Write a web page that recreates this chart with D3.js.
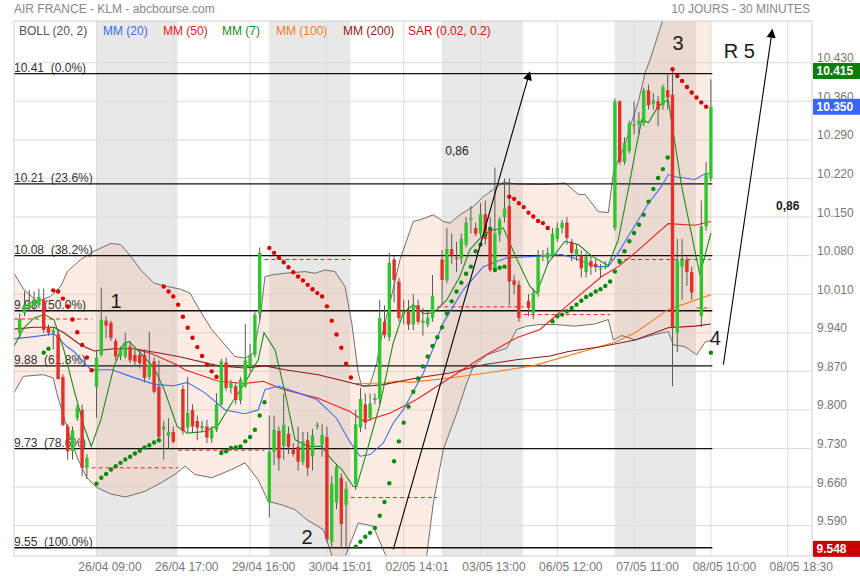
<!DOCTYPE html>
<html>
<head>
<meta charset="utf-8">
<script src="https://cdn.jsdelivr.net/npm/d3@7/dist/d3.min.js"></script>
<style>
  body { margin: 0; background: #fff; }
  svg { display: block; font-family: "Liberation Sans", Arial, sans-serif; }
</style>
</head>
<body>
<svg id="chart" width="860" height="580"></svg>
<script>
// ---- 30-minute bars, one slot per half hour (09:00 .. 17:30, 18 slots a day) ----
// day order: 25/04, 26/04, 29/04, 30/04, 02/05, 03/05, 06/05, 07/05, 08/05
const opens = [
  null, null, 9.940, 9.976, 9.985, 9.990, 9.990, 10.000, 9.950, 9.940, 9.937, 9.860, 9.770, 9.725, 9.785, 9.800, 9.695, null,
  9.842, 9.900, 9.962, 9.958, 9.925, 9.897, 9.897, 9.915, 9.900, 9.900, 9.900, 9.860, 9.888, 9.842, 9.765, 9.753, 9.760, null,
  9.838, 9.768, 9.800, 9.780, 9.767, 9.770, 9.748, 9.764, 9.810, 9.886, 9.840, 9.843, 9.817, 9.843, 9.878, 9.900, 9.975, null,
  9.632, 9.724, 9.762, 9.735, 9.757, 9.728, 9.733, 9.706, 9.745, 9.716, 9.770, 9.737, 9.751, 9.561, 9.632, 9.677, 9.628, null,
  9.665, 9.768, 9.810, 9.785, 9.818, 9.820, 9.960, 9.932, 10.073, 10.033, 9.973, 9.978, 9.955, 9.990, 9.958, 9.955, 9.967, null,
  10.073, 10.036, 10.092, 10.076, 10.075, 10.100, 10.145, 10.130, 10.120, 10.155, 10.130, 10.054, 10.118, 10.150, 10.170, 10.035, 10.027, null,
  9.998, 9.976, 10.013, 10.078, 10.075, 10.080, 10.110, 10.130, 10.140, 10.105, 10.080, 10.080, 10.050, 10.070, 10.065, 10.055, 10.060, null,
  10.130, 10.360, 10.250, 10.270, 10.315, 10.318, 10.320, 10.380, 10.355, 10.360, 10.353, 10.380, 10.372, 9.940, 10.060, 10.072, 10.050, null,
  9.970, 10.133, 10.220
];
const highs = [
  null, null, 9.975, 10.015, 10.018, 10.015, 10.020, 10.020, 9.955, 9.950, 9.945, 9.865, 9.775, 9.770, 9.810, 9.810, 9.720, null,
  9.909, 10.022, 9.970, 9.962, 9.930, 9.915, 9.940, 9.925, 9.910, 9.910, 9.910, 9.942, 9.895, 9.890, 9.780, 9.785, 9.770, null,
  9.845, 9.860, 9.810, 9.790, 9.780, 9.782, 9.770, 9.830, 9.893, 9.895, 9.855, 9.850, 9.860, 9.956, 9.920, 9.980, 10.095, null,
  9.790, 9.790, 9.770, 9.830, 9.770, 9.740, 9.770, 9.760, 9.760, 9.765, 9.778, 9.775, 9.770, 9.680, 9.700, 9.685, 9.670, null,
  9.800, 9.840, 9.830, 9.830, 9.830, 10.000, 9.990, 10.085, 10.080, 10.040, 10.000, 10.000, 10.010, 10.000, 9.985, 9.980, 10.045, null,
  10.090, 10.130, 10.120, 10.105, 10.120, 10.150, 10.170, 10.140, 10.175, 10.180, 10.150, 10.240, 10.150, 10.220, 10.220, 10.045, 10.035, null,
  10.010, 10.020, 10.090, 10.090, 10.095, 10.130, 10.140, 10.145, 10.150, 10.110, 10.100, 10.090, 10.085, 10.080, 10.075, 10.065, 10.070, null,
  10.365, 10.362, 10.295, 10.325, 10.360, 10.340, 10.385, 10.390, 10.375, 10.370, 10.390, 10.410, 10.415, 10.110, 10.110, 10.078, 10.060, null,
  10.180, 10.250, 10.400
];
const lows = [
  null, null, 9.930, 9.970, 9.980, 9.980, 9.985, 9.940, 9.935, 9.910, 9.855, 9.770, 9.710, 9.710, 9.780, 9.680, 9.675, null,
  9.786, 9.897, 9.930, 9.925, 9.890, 9.890, 9.893, 9.885, 9.880, 9.875, 9.850, 9.855, 9.830, 9.745, 9.710, 9.730, 9.740, null,
  9.755, 9.760, 9.760, 9.745, 9.760, 9.740, 9.740, 9.760, 9.808, 9.835, 9.830, 9.810, 9.810, 9.840, 9.870, 9.895, 9.964, null,
  9.605, 9.700, 9.690, 9.710, 9.720, 9.715, 9.690, 9.700, 9.680, 9.690, 9.765, 9.715, 9.560, 9.550, 9.620, 9.548, 9.552, null,
  9.655, 9.760, 9.765, 9.780, 9.810, 9.810, 9.930, 9.925, 9.995, 9.960, 9.955, 9.945, 9.945, 9.955, 9.935, 9.950, 9.960, null,
  9.990, 10.030, 10.065, 10.050, 10.065, 10.095, 10.120, 10.115, 10.115, 10.100, 10.050, 10.050, 10.105, 10.140, 9.990, 10.010, 9.960, null,
  9.970, 9.965, 10.005, 10.070, 10.065, 10.075, 10.105, 10.120, 10.100, 10.070, 10.070, 10.040, 10.040, 10.045, 10.050, 10.040, 10.055, null,
  10.125, 10.245, 10.245, 10.265, 10.300, 10.300, 10.315, 10.345, 10.345, 10.315, 10.345, 10.345, 9.843, 9.905, 10.000, 10.025, 10.000, null,
  9.950, 10.125, 10.215
];
const closes = [
  null, null, 9.965, 9.991, 9.995, 10.000, 10.005, 9.945, 9.940, 9.945, 9.856, 9.773, 9.725, 9.763, 9.805, 9.695, 9.713, null,
  9.895, 9.964, 9.953, 9.931, 9.897, 9.910, 9.922, 9.890, 9.888, 9.885, 9.858, 9.882, 9.833, 9.751, 9.770, 9.760, 9.742, null,
  9.762, 9.795, 9.770, 9.768, 9.771, 9.750, 9.764, 9.810, 9.888, 9.840, 9.850, 9.818, 9.855, 9.890, 9.900, 9.973, 10.085, null,
  9.724, 9.764, 9.712, 9.773, 9.733, 9.720, 9.706, 9.743, 9.695, 9.754, 9.773, 9.755, 9.565, 9.666, 9.697, 9.593, 9.657, null,
  9.774, 9.820, 9.777, 9.812, 9.822, 9.967, 9.936, 10.067, 10.036, 9.967, 9.978, 9.955, 9.990, 9.960, 9.962, 9.967, 10.007, null,
  10.036, 10.092, 10.080, 10.074, 10.110, 10.140, 10.148, 10.120, 10.155, 10.110, 10.054, 10.120, 10.145, 10.165, 10.033, 10.027, 9.967, null,
  9.985, 10.013, 10.078, 10.082, 10.085, 10.120, 10.130, 10.140, 10.112, 10.085, 10.092, 10.057, 10.078, 10.060, 10.060, 10.057, 10.062, null,
  10.360, 10.250, 10.285, 10.320, 10.318, 10.325, 10.380, 10.353, 10.362, 10.345, 10.386, 10.367, 9.950, 10.072, 10.072, 10.050, 10.013, null,
  10.133, 10.230, 10.350
];

// Parabolic SAR (0.02, 0.2), one value per slot; trend reverses at the listed slots
const sar = [
  null, null, null, null, null, null, null, 9.904, 9.911, 10.017, 10.015, 10.002, 9.988, 9.964, 9.941, 9.918, 9.895, 9.872,
  9.666, 9.677, 9.684, 9.692, 9.698, 9.704, 9.710, 9.715, 9.721, 9.726, 9.732, 9.736, 9.741, 9.745, 10.024, 10.015, 10.006, 9.991,
  9.969, 9.949, 9.931, 9.914, 9.898, 9.882, 9.870, 9.860, 9.722, 9.725, 9.731, 9.732, 9.734, 9.743, 9.751, 9.764, 9.790, 9.814,
  10.094, 10.085, 10.076, 10.068, 10.059, 10.050, 10.042, 10.035, 10.027, 10.019, 10.012, 10.006, 9.988, 9.962, 9.937, 9.913, 9.884, 9.859,
  9.552, 9.561, 9.570, 9.577, 9.586, 9.608, 9.633, 9.667, 9.707, 9.743, 9.777, 9.806, 9.833, 9.857, 9.879, 9.897, 9.916, 9.932,
  9.950, 9.975, 9.997, 10.015, 10.031, 10.047, 10.060, 10.088, 10.100, 10.118, 10.129, 10.054, 10.058, 10.060, 10.187, 10.183, 10.175, 10.168,
  10.158, 10.151, 10.143, 10.139, 10.130, 9.961, 9.970, 9.973, 9.979, 9.985, 9.991, 9.998, 10.005, 10.009, 10.015, 10.019, 10.025, 10.033,
  10.051, 10.069, 10.088, 10.106, 10.121, 10.136, 10.154, 10.178, 10.201, 10.221, 10.237, 10.258, 10.418, 10.406, 10.397, 10.386, 10.376, 10.367,
  10.358, 10.350, 9.904
];
const sarFlips = [9, 18, 32, 44, 54, 72, 104, 113, 138, 146];

// Moving averages as [slot, value]
const mm7 = [[0.8,9.915],[2.9,9.949],[5,9.967],[7.1,9.973],[9.15,9.964],[11.2,9.909],[13.3,9.837],[15.4,9.770],[16.9,9.734],
  [18.9,9.782],[21.65,9.879],[23.7,9.921],[24.8,9.924],[27.2,9.903],[30,9.876],[32.1,9.837],[34.8,9.770],[36.9,9.758],[40.6,9.761],
  [43.4,9.773],[46.2,9.813],[48.9,9.849],[51.7,9.891],[52.9,9.940],[55.2,9.909],[57.3,9.831],[59.35,9.746],[62.1,9.734],[64.9,9.734],
  [67,9.710],[69.1,9.692],[71.5,9.661],[72.2,9.661],[73.9,9.712],[77.06,9.810],[79.8,9.921],[81.9,9.976],[84,9.991],[86.1,9.975],
  [88.2,9.976],[91,10.000],[93.7,10.042],[95.8,10.091],[98.6,10.118],[100.7,10.127],[102.75,10.130],[105.5,10.075],[108.3,10.024],
  [109.7,10.012],[112.1,10.067],[115.6,10.106],[118.4,10.100],[121.2,10.079],[124.6,10.062],[126.7,10.109],[128.8,10.200],
  [130.2,10.266],[131.6,10.327],[133,10.321],[135,10.351],[137.1,10.363],[139.9,10.206],[143.7,10.045],[146,10.121]];
const mm20 = [[0.8,9.929],[5,9.933],[9.15,9.938],[11.8,9.915],[13.3,9.906],[16.8,9.873],[21.2,9.873],[25.4,9.860],[30.2,9.846],
  [34.15,9.844],[36.9,9.850],[40.6,9.831],[44.8,9.800],[48.9,9.793],[51.7,9.800],[53.1,9.837],[55.9,9.843],[60,9.831],[63.9,9.819],
  [68,9.785],[70.8,9.742],[72.9,9.716],[75,9.719],[77.75,9.740],[79.8,9.776],[81.9,9.800],[86.1,9.867],[90.25,9.958],[94.4,10.018],
  [98.6,10.060],[103.5,10.076],[110.4,10.079],[114.9,10.082],[118.4,10.073],[121.9,10.060],[124.6,10.060],[126.7,10.085],
  [128.8,10.115],[133,10.175],[135.75,10.206],[137.1,10.227],[138.5,10.223],[142.7,10.218],[144.8,10.229],[146,10.229]];
const mm50 = [[27,9.908],[29.3,9.903],[34.7,9.882],[36.4,9.873],[43.4,9.852],
  [48.9,9.848],[52.75,9.852],[56.9,9.837],[63.9,9.822],[70.8,9.797],[73.9,9.779],[75.7,9.785],[79.1,9.794],[84.7,9.819],[91.6,9.858],
  [98.6,9.897],[105.5,9.931],[110.4,9.946],[116.3,9.991],[123.25,10.042],[126.7,10.060],[130.2,10.085],[137.1,10.138],[142.7,10.135],
  [146,10.142]];
const mm100 = [[72,9.848],[78,9.849],[80.5,9.852],[83.3,9.850],[91.6,9.858],[100,9.868],[108.9,9.880],[126,9.923],[130.2,9.940],
  [137.1,9.982],[142,9.997],[146,10.009]];
const mm200 = [[0,9.946],[5,9.950],[9.15,9.950],[11.2,9.940],[14.7,9.918],[17.5,9.907],[21.6,9.911],[25.8,9.911],[28.5,9.907],
  [31.4,9.903],[35.5,9.896],[37.5,9.892],[43.4,9.880],[48.9,9.876],[53.1,9.880],[57.3,9.873],[64.2,9.864],[71.2,9.849],[73.9,9.843],
  [77.8,9.846],[84.7,9.858],[91.6,9.867],[98.6,9.882],[105.5,9.891],[112.5,9.898],[116.3,9.906],[123.3,9.915],[130.2,9.927],
  [137.1,9.949],[142.7,9.952],[146,9.956]];

// Bollinger (20, 2) envelope as [slot, value]
const bollUpper = [[0.8,10.048],[2.9,10.018],[5.67,9.997],[8.46,10.006],[10.54,10.024],[11.92,10.051],[14.71,10.073],[17.48,10.088],
  [20.96,10.102],[23.04,10.100],[25.13,10.079],[27.21,10.054],[29.98,10.030],[32.75,10.024],[35.54,10.019],[37.48,10.012],[39.21,9.985],
  [42,9.946],[44.77,9.918],[46.85,9.897],[48.94,9.894],[50.67,9.903],[52.06,9.964],[53.1,10.042],[54.5,10.045],[57.27,10.048],
  [61.44,10.051],[63.52,10.048],[65.6,10.054],[67.69,10.051],[69.77,10.024],[71.17,9.958],[72.54,9.867],[73.25,9.843],[74.98,9.846],
  [76.38,9.885],[77.06,9.921],[79.15,9.995],[81.23,10.073],[84,10.142],[85.4,10.145],[88.17,10.154],[90.25,10.142],[91.65,10.139],
  [93.73,10.154],[96.5,10.169],[98.58,10.187],[100.67,10.200],[102.75,10.213],[105.54,10.210],[110.4,10.209],[113.52,10.210],
  [115.6,10.212],[118.38,10.191],[119.77,10.191],[122.54,10.160],[124.63,10.158],[125.67,10.230],[126.71,10.254],[128.1,10.281],
  [129.5,10.323],[130.88,10.359],[132.27,10.411],[133.31,10.435],[136,10.508],[138.7,10.580],[141.6,10.617],[146,10.635]];
const bollLower = [[0.8,9.831],[2.75,9.861],[6.92,9.864],[9,9.858],[9.71,9.831],[11.79,9.770],[13.88,9.716],[15.96,9.677],
  [18,9.660],[20.8,9.648],[24,9.642],[28,9.652],[31.5,9.668],[34.5,9.684],[36.44,9.698],[38.52,9.683],[42,9.677],[46.17,9.692],
  [48.94,9.704],[51.71,9.673],[53.79,9.634],[56.58,9.628],[59.35,9.619],[61.79,9.601],[65.25,9.583],[66.65,9.546],[67.7,9.519],
  [68.7,9.510],[71.2,9.565],[72.54,9.595],[75.67,9.589],[77.75,9.546],[80.2,9.500],[85.4,9.500],[86.8,9.536],[88.17,9.631],
  [90.25,9.728],[93.04,9.794],[95.13,9.849],[96.5,9.879],[99.29,9.900],[103.46,9.912],[105.54,9.946],[107.63,9.952],[110.4,9.955],
  [113.52,9.955],[117.69,9.952],[121.85,9.956],[124.63,9.964],[125.67,9.927],[127.42,9.935],[130.19,9.927],[134.35,9.937],
  [137.13,9.942],[138.17,9.918],[140.6,9.915],[143.04,9.900],[144.77,9.923],[145.96,9.926]];

// Previous-session close, dashed across each session
const prevCloseFrom  = [0.8, 17, 35, 53, 71, 89, 107, 125, 143];
const prevCloseTo    = [17, 35, 53, 71, 89, 107, 125, 146, 146];
const prevCloseValue = [9.965, 9.695, 9.727, 10.073, 9.641, 9.987, 9.973, 10.073, 9.985];

// Fibonacci retracement of the 9.55 -> 10.41 swing
const fibLevels = [10.41, 10.21, 10.08, 9.98, 9.88, 9.73, 9.55];
const fibPcts   = ["0.0%", "23.6%", "38.2%", "50.0%", "61.8%", "78.6%", "100.0%"];

// Axes
const yTicks = [10.43, 10.36, 10.29, 10.22, 10.15, 10.08, 10.01, 9.94, 9.87, 9.80, 9.73, 9.66, 9.59];
const xTickSlots = [18, 34, 50, 66, 82, 98, 114, 130, 146, 162];
const xTickLabels = ["26/04 09:00", "26/04 17:00", "29/04 16:00", "30/04 15:01", "02/05 14:01",
                     "03/05 13:00", "06/05 12:00", "07/05 11:00", "08/05 10:00", "08/05 18:30"];
const shadedSessions = [18, 54, 90, 126];

// Drawn annotations: [slot, value]
const trendA = [[79.83, 9.547], [108.25, 10.413]];
const trendB = [[148.6, 9.882], [158.8, 10.49]];
const notes = [
  { text: "1",    at: [22.1, 9.985],  size: 20, anchor: "middle" },
  { text: "2",    at: [61.85, 9.556], size: 20, anchor: "middle" },
  { text: "3",    at: [139.15, 10.453], size: 20, anchor: "middle" },
  { text: "4",    at: [146.9, 9.918], size: 20, anchor: "middle" },
  { text: "R 5",  at: [148.7, 10.439], size: 20, anchor: "start" },
  { text: "0,86", at: [93.1, 10.263], size: 12, anchor: "middle" },
  { text: "0,86", at: [162, 10.163],  size: 12, anchor: "middle", bold: true }
];

const legend = [
  { text: "BOLL (20, 2)",    color: "#555555", x: 19 },
  { text: "MM (20)",         color: "#3f6cf2", x: 103 },
  { text: "MM (50)",         color: "#ee2020", x: 163 },
  { text: "MM (7)",          color: "#1d8a1d", x: 222 },
  { text: "MM (100)",        color: "#ff7a1a", x: 276 },
  { text: "MM (200)",        color: "#8e1b1b", x: 343 },
  { text: "SAR (0.02, 0.2)", color: "#d01010", x: 408 }
];

// ---------------------------------------------------------------------------
const svg = d3.select("#chart");
const plot = { left: 14, right: 812, top: 21, bottom: 556 };

const x = d3.scaleLinear().domain([0, 162]).range([10.1, 787.7]);
const y = d3.scaleLinear().domain([9.59, 10.43]).range([525.7, 62.7]);

svg.append("rect").attr("width", 860).attr("height", 580).attr("fill", "#fff");

svg.append("defs").append("clipPath").attr("id", "plotClip")
  .append("rect").attr("x", plot.left).attr("y", plot.top)
  .attr("width", plot.right - plot.left).attr("height", plot.bottom - plot.top);

svg.select("defs").append("marker")
  .attr("id", "arrow").attr("viewBox", "0 0 10 10").attr("refX", 9).attr("refY", 5)
  .attr("markerWidth", 11).attr("markerHeight", 9).attr("markerUnits", "userSpaceOnUse")
  .attr("orient", "auto")
  .append("path").attr("d", "M0,0 L10,5 L0,10 z").attr("fill", "#000");

const g = svg.append("g").attr("clip-path", "url(#plotClip)");

// alternate sessions shaded
g.selectAll("rect.session").data(shadedSessions).join("rect")
  .attr("x", d => x(d) - 0.3).attr("y", plot.top)
  .attr("width", d => x(d + 17) - x(d) - 0.2).attr("height", plot.bottom - plot.top)
  .attr("fill", "#e8e8e8");

// grid
g.selectAll("line.hgrid").data(yTicks).join("line")
  .attr("x1", plot.left).attr("x2", plot.right)
  .attr("y1", d => y(d)).attr("y2", d => y(d))
  .attr("stroke", "#dcdcdc").attr("stroke-width", 1);
g.selectAll("line.vgrid").data(xTickSlots).join("line")
  .attr("x1", d => x(d)).attr("x2", d => x(d))
  .attr("y1", plot.top).attr("y2", plot.bottom)
  .attr("stroke", "#dcdcdc").attr("stroke-width", 1);

// Bollinger envelope
const lineGen = d3.line().x(d => x(d[0])).y(d => y(d[1]));
const env = bollUpper.concat(bollLower.slice().reverse());
g.append("path")
  .attr("d", lineGen(env) + "Z")
  .attr("fill", "rgba(248,170,128,0.22)");
[bollUpper, bollLower].forEach(b => {
  g.append("path").attr("d", lineGen(b)).attr("fill", "none")
    .attr("stroke", "#6e6e6e").attr("stroke-width", 1);
});

// Fibonacci levels
const fibEnd = x(146.3);
g.selectAll("line.fib").data(fibLevels).join("line")
  .attr("x1", plot.left).attr("x2", fibEnd)
  .attr("y1", d => y(d)).attr("y2", d => y(d))
  .attr("stroke", "#111").attr("stroke-width", 1.3);
g.selectAll("text.fib").data(fibLevels).join("text")
  .attr("x", plot.left).attr("y", d => y(d) - 1.5)
  .attr("font-size", 12).attr("fill", "#333")
  .style("white-space", "pre")
  .text((d, i) => d.toFixed(2) + "  (" + fibPcts[i] + ")");

// previous-close dashes
g.selectAll("line.prev").data(prevCloseValue).join("line")
  .attr("x1", (d, i) => x(prevCloseFrom[i])).attr("x2", (d, i) => x(prevCloseTo[i]))
  .attr("y1", d => y(d)).attr("y2", d => y(d))
  .attr("stroke", "#e8241c").attr("stroke-width", 1).attr("stroke-dasharray", "4,3");

// moving averages
const maStyles = [
  { data: mm100, color: "#ff7a1a" },
  { data: mm50,  color: "#ee2020" },
  { data: mm200, color: "#8e1b1b" },
  { data: mm20,  color: "#3f6cf2" },
  { data: mm7,   color: "#1d8a1d" }
];
maStyles.forEach(m => {
  g.append("path").attr("d", lineGen(m.data)).attr("fill", "none")
    .attr("stroke", m.color).attr("stroke-width", 1.1);
});

// candles
const bars = d3.range(opens.length).filter(i => opens[i] != null)
  .map(i => ({ i, o: opens[i], h: highs[i], l: lows[i], c: closes[i] }));
const cg = g.append("g");
cg.selectAll("line.wick").data(bars).join("line")
  .attr("x1", d => x(d.i)).attr("x2", d => x(d.i))
  .attr("y1", d => y(d.h)).attr("y2", d => y(d.l))
  .attr("stroke", "#5a5a5a").attr("stroke-width", 1);
cg.selectAll("rect.body").data(bars).join("rect")
  .attr("x", d => x(d.i) - 1.7).attr("width", 3.4)
  .attr("y", d => y(Math.max(d.o, d.c)))
  .attr("height", d => Math.max(1.2, Math.abs(y(d.o) - y(d.c))))
  .attr("fill", d => d.c >= d.o ? "#2ec52e" : "#e2302a");

// SAR dots
let rising = true;
const sarDots = [];
sar.forEach((v, i) => {
  if (sarFlips.includes(i)) rising = !rising;
  if (v != null) sarDots.push({ i, v, rising });
});
g.selectAll("circle.sar").data(sarDots).join("circle")
  .attr("cx", d => x(d.i)).attr("cy", d => y(d.v)).attr("r", 2.2)
  .attr("fill", d => d.rising ? "#0a8a0a" : "#d80000");

// trend arrows
[trendA, trendB].forEach(t => {
  svg.append("line")
    .attr("x1", x(t[0][0])).attr("y1", y(t[0][1]))
    .attr("x2", x(t[1][0])).attr("y2", y(t[1][1]))
    .attr("stroke", "#000").attr("stroke-width", 1.1)
    .attr("marker-end", "url(#arrow)");
});

// annotation text
svg.selectAll("text.note").data(notes).join("text")
  .attr("x", d => x(d.at[0])).attr("y", d => y(d.at[1]))
  .attr("text-anchor", d => d.anchor)
  .attr("font-size", d => d.size)
  .attr("font-weight", d => d.bold ? "bold" : "normal")
  .attr("fill", "#1a1a1a")
  .text(d => d.text);

// frame
svg.append("rect").attr("x", plot.left).attr("y", plot.top)
  .attr("width", plot.right - plot.left).attr("height", plot.bottom - plot.top)
  .attr("fill", "none").attr("stroke", "#d0d0d0").attr("stroke-width", 1);

// right axis
svg.selectAll("text.ytick").data(yTicks).join("text")
  .attr("x", 817).attr("y", d => y(d) - 0.5)
  .attr("font-size", 12).attr("fill", "#777")
  .text(d => d.toFixed(3));

// price tags: session high, last close, session low
const tags = [
  { v: d3.max(highs), color: "#0c7c0c" },
  { v: closes[closes.length - 1], color: "#3a66ff" },
  { v: d3.min(lows), color: "#c80000" }
];
const tg = svg.selectAll("g.tag").data(tags).join("g");
tg.append("rect").attr("x", 813).attr("y", d => y(d.v) - 8).attr("width", 47).attr("height", 16)
  .attr("fill", d => d.color);
tg.append("text").attr("x", 816.5).attr("y", d => y(d.v) + 4.3)
  .attr("font-size", 12).attr("font-weight", "bold").attr("fill", "#fff")
  .text(d => d.v.toFixed(3));

// bottom axis
svg.selectAll("text.xtick").data(xTickSlots).join("text")
  .attr("x", d => x(d) + 13.5).attr("y", 571)
  .attr("text-anchor", "middle").attr("font-size", 12).attr("fill", "#777")
  .text((d, i) => xTickLabels[i]);

// header
svg.append("text").attr("x", 14).attr("y", 13).attr("font-size", 12).attr("fill", "#888")
  .text("AIR FRANCE - KLM - abcbourse.com");
svg.append("text").attr("x", 810).attr("y", 13).attr("text-anchor", "end")
  .attr("font-size", 12).attr("fill", "#888").text("10 JOURS - 30 MINUTES");

// legend
svg.selectAll("text.legend").data(legend).join("text")
  .attr("x", d => d.x).attr("y", 35).attr("font-size", 12)
  .attr("fill", d => d.color).text(d => d.text);
</script>
</body>
</html>
